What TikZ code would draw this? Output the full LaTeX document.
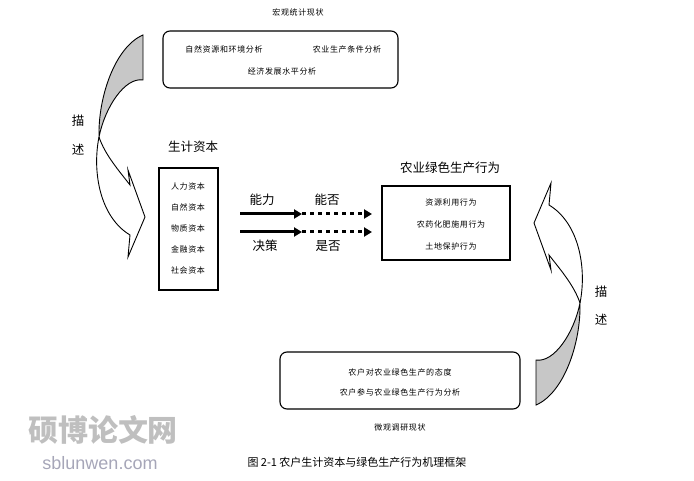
\documentclass[tikz,border=0pt]{standalone}
\usepackage{fontspec}
\setmainfont{Liberation Serif}
\newfontfamily\cjk[LetterSpace=8]{Noto Sans CJK SC}
\newfontfamily\cjkb{Noto Sans CJK SC}
\usetikzlibrary{arrows.meta}
\begin{document}
\begin{tikzpicture}[x=1pt,y=-1pt,
  sm/.style={font=\cjk\fontsize{8}{9}\selectfont},
  big/.style={font=\cjkb\fontsize{12.5}{13}\selectfont},
  rbox/.style={draw,line width=1.1pt,rounded corners=7pt},
  sbox/.style={draw,line width=1.1pt},
  solidarr/.style={line width=3pt,-{Triangle[length=8pt,width=9pt]}},
  dotarr/.style={line width=3pt,dash pattern=on 4pt off 4pt,-{Triangle[length=8pt,width=9pt]}},
  curvearr/.style={draw,line width=0.9pt}]
\useasboundingbox (0,0) rectangle (694,481);
\newcommand{\twistarrow}{%
  \filldraw[curvearr,fill=black!22] (23,-112) .. controls (-5,-100) and (-22,-50) .. (-21,-10)
     .. controls (-15,-40) and (5,-70) .. (23,-67) -- cycle;
  \draw[curvearr] (-21,-10) .. controls (-28,25) and (-20,70) .. (10,88) -- (8,110) -- (25,70)
     -- (8,23) -- (10,38) .. controls (0,25) and (-15,8) .. (-21,-10);}
\begin{scope}[shift={(120,147)}]\twistarrow\end{scope}
\begin{scope}[shift={(559,293)},rotate=180]\twistarrow\end{scope}
% top
\node[sm] (macro) at (298,12) {宏观统计现状};
\node[rbox,minimum width=235pt,minimum height=57pt] (topbox) at (280.5,59.5) {};
\node[sm] (t1) at (224,49) {自然资源和环境分析};
\node[sm] (t2) at (347,49) {农业生产条件分析};
\node[sm] (t3) at (282,71) {经济发展水平分析};
\node[big] (d1) at (78,121) {描};
\node[big] (d2) at (78,150) {述};
% left box
\node[big] (cap) at (193,147) {生计资本};
\node[sbox,minimum width=59pt,minimum height=122pt] (lbox) at (188.5,229) {};
\foreach \t [count=\i] in {人力资本,自然资本,物质资本,金融资本,社会资本}
  \node[sm] (l\i) at (188,165+21*\i) {\t};
% arrows
\coordinate (a1s) at (240,214); \coordinate (a1m) at (302,214); \coordinate (a1e) at (372,214);
\coordinate (a2s) at (240,232); \coordinate (a2m) at (302,232); \coordinate (a2e) at (372,232);
\draw[dotarr] (a1m) -- (a1e);
\draw[dotarr] (a2m) -- (a2e);
\draw[solidarr] (a1s) -- (a1m);
\draw[solidarr] (a2s) -- (a2m);
\node[big] (n1) at (262,200) {能力};
\node[big] (n2) at (327,200) {能否};
\node[big] (n3) at (265,246) {决策};
\node[big] (n4) at (328,246) {是否};
% right box
\node[big] (rcap) at (450,168) {农业绿色生产行为};
\node[sbox,minimum width=128pt,minimum height=74pt] (rbox) at (446,223) {};
\node[sm] (r1) at (451,202) {资源利用行为};
\node[sm] (r2) at (451,224) {农药化肥施用行为};
\node[sm] (r3) at (451,246) {土地保护行为};
\node[big] (d3) at (601,292) {描};
\node[big] (d4) at (601,320) {述};
% bottom
\node[rbox,minimum width=240pt,minimum height=57pt] (botbox) at (400,380.5) {};
\node[sm] (b1) at (400,372) {农户对农业绿色生产的态度};
\node[sm] (b2) at (400,392) {农户参与农业绿色生产行为分析};
\node[sm] (micro) at (400,427) {微观调研现状};
\node[font=\cjkb\fontsize{11}{12}\selectfont] (fig) at (357,462) {图 2-1\ 农户生计资本与绿色生产行为机理框架};
% watermark
\node[font=\cjkb\bfseries\fontsize{30}{32}\selectfont,text=black!25] (wm1) at (103,430) {硕博论文网};
\node[font=\fontspec{Liberation Sans}\fontsize{18}{20}\selectfont,text=blue!20!black!35] (wm2) at (100,463) {sblunwen.com};
\end{tikzpicture}
\end{document}
